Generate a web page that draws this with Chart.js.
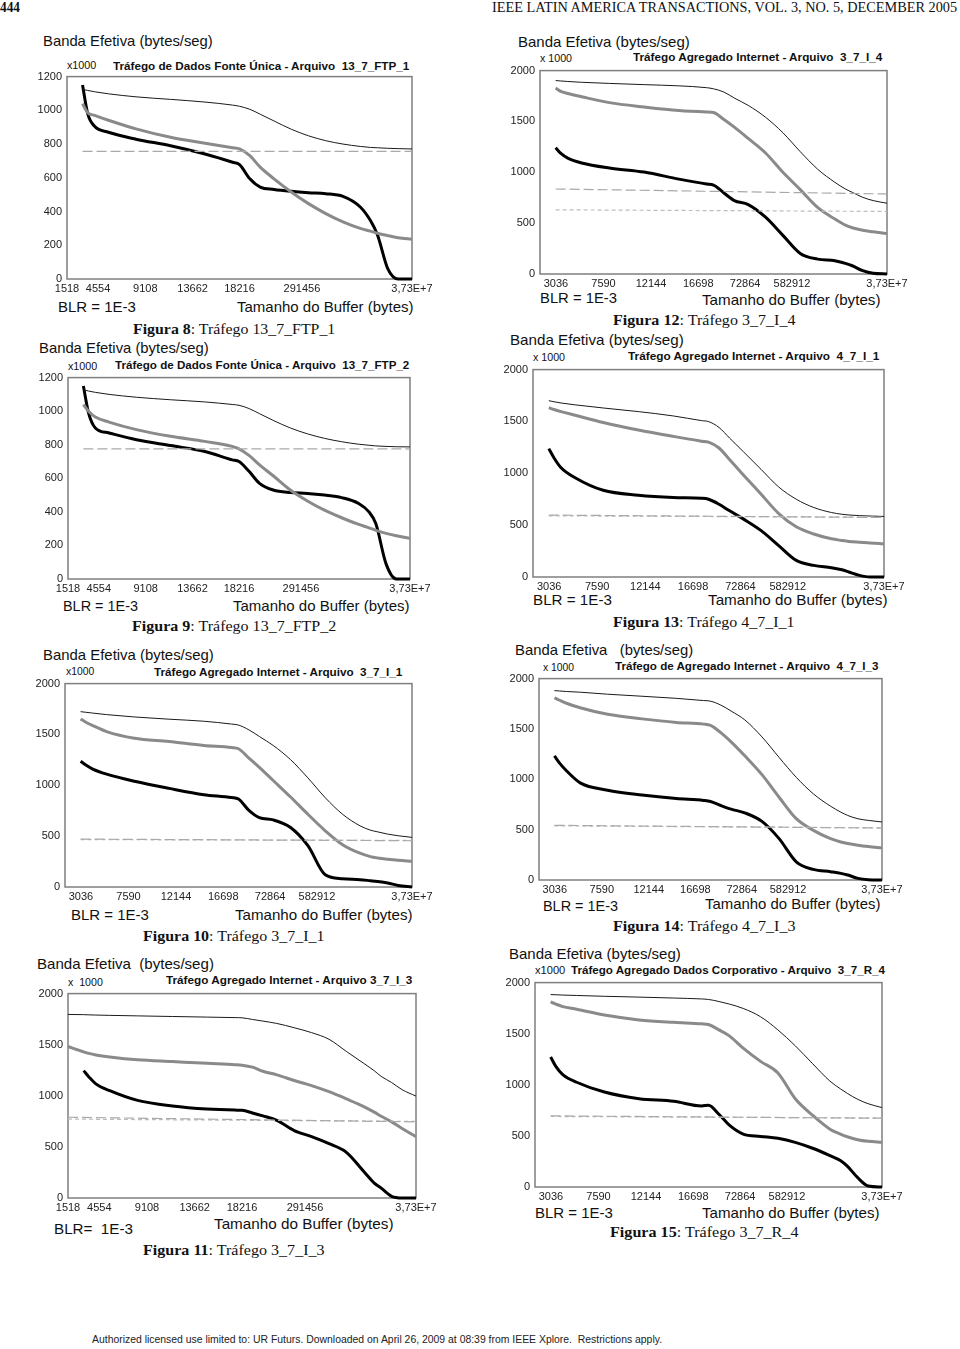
<!DOCTYPE html>
<html><head><meta charset="utf-8">
<script src="https://cdn.jsdelivr.net/npm/chart.js@4.4.0/dist/chart.umd.min.js"></script>
<style>
html,body{margin:0;padding:0;background:#fff}
body{width:960px;height:1349px;position:relative;overflow:hidden;font-family:"Liberation Sans",Arial,sans-serif;color:#111}
.t{position:absolute;white-space:pre;line-height:1;transform-origin:0 0}
.hdr{font-family:"Liberation Serif","Times New Roman",serif;font-size:14px;color:#111}
.foot{font-size:11px;color:#222}
.banda{font-size:15px}
.x1k{font-size:10px}
.ttl{font-size:10.5px;font-weight:bold}
.axl{font-size:15px}
.cap{font-family:"Liberation Serif","Times New Roman",serif;font-size:15px}
canvas{position:absolute}
</style></head>
<body>
<script>
// ---------- DATA ----------
// x-axis: relative position along the buffer-size axis (0 = first tick, 100 = last tick)
const G   = [4.5, 6, 8, 12, 20, 30, 40, 48, 50, 53, 56, 60, 65, 70, 75, 80, 85, 88, 90, 93, 96, 100];
const G11 = [0, 4.5, 6, 8, 12, 20, 30, 40, 48, 50, 53, 56, 60, 65, 70, 75, 80, 85, 88, 90, 93, 96, 100];
const DASH_X   = [4.5, 100];
const DASH_X11 = [0, 100];

const ftpTickPos    = [0, 9, 22.7, 36.4, 50, 68.1, 100];
const ftpTickLabels = ['1518', '4554', '9108', '13662', '18216', '291456', '3,73E+7'];
const netTickPos    = [4.6, 18.3, 32, 45.6, 59.1, 72.6, 100];
const netTickLabels = ['3036', '7590', '12144', '16698', '72864', '582912', '3,73E+7'];

// Figura 8 (x1000 bytes/seg)
const thin8  = [1124,1118,1110,1098,1080,1065,1049,1031,1024,1006,977,937,888,849,820,800,786,780,778,775,773,771];
const gray8  = [1039,986,970,941,890,840,805,778,771,731,663,594,516,447,388,339,300,284,271,257,245,235];
const black8 = [1150,980,905,870,829,790,741,692,678,594,545,531,520,512,506,490,427,345,261,60,0,0];
const dash8  = [757, 757];
// Figura 9
const thin9  = [1127,1120,1112,1100,1083,1068,1055,1040,1035,1015,985,945,900,865,838,818,803,797,793,790,788,787];
const gray9  = [1039,1000,965,935,890,850,820,790,775,735,680,615,530,465,410,365,325,305,290,272,258,242];
const black9 = [1150,990,900,870,830,795,760,710,700,640,570,530,515,510,500,485,450,400,330,90,0,0];
const dash9  = [775, 775];
// Figura 10
const thin10  = [1724,1718,1710,1695,1672,1650,1630,1602,1592,1545,1480,1392,1252,1073,878,715,602,559,543,520,504,488];
const gray10  = [1652,1620,1587,1528,1463,1431,1392,1372,1359,1268,1177,1047,885,715,553,416,332,299,286,273,263,254];
const black10 = [1236,1200,1160,1110,1040,970,908,880,865,754,683,660,585,406,120,81,72,62,55,40,15,0];
const dash10a = [471, 455];
const dash10b = [466, 458];
// Figura 11
const thin11  = [1796,1794,1792,1790,1787,1782,1776,1770,1765,1763,1747,1731,1708,1666,1618,1553,1434,1317,1245,1190,1130,1060,997];
const gray11  = [1482,1430,1415,1400,1380,1352,1335,1318,1305,1300,1280,1240,1205,1150,1100,1040,970,895,840,800,745,680,599];
const black11 = [null,1246,1185,1117,1050,955,900,870,860,858,832,803,760,660,600,531,447,259,146,97,16,0,0];
const dash11a = [790, 745];
const dash11b = [772, 750];
// Figura 12
const thin12  = [1902,1898,1893,1885,1874,1862,1850,1832,1821,1789,1730,1658,1541,1389,1203,1031,901,836,803,754,722,696];
const gray12  = [1828,1795,1775,1743,1685,1642,1607,1593,1588,1519,1444,1333,1190,1000,830,655,540,480,455,430,415,397];
const black12 = [1242,1185,1140,1092,1042,1002,933,885,875,797,722,683,559,380,202,146,130,104,81,33,7,0];
const dash12a = [836, 787];
const dash12b = [631, 615];
// Figura 13
const thin13  = [1700,1690,1678,1660,1630,1595,1553,1508,1499,1442,1340,1206,1037,868,750,670,622,605,598,592,588,584];
const gray13  = [1633,1615,1595,1560,1490,1418,1356,1310,1300,1244,1132,982,798,612,485,415,368,352,343,335,328,319];
const black13 = [1238,1148,1053,957,836,788,766,759,750,702,638,558,447,303,160,112,89,70,48,16,0,0];
const dash13a = [597, 574];
const dash13b = [590, 576];
// Figura 14
const thin14  = [1881,1877,1872,1865,1845,1825,1804,1782,1776,1737,1678,1590,1421,1217,1020,855,733,674,641,608,592,576];
const gray14  = [1809,1785,1755,1710,1645,1600,1565,1548,1535,1464,1372,1233,1046,822,609,493,411,378,362,345,332,319];
const black14 = [1233,1160,1085,965,892,844,809,790,780,740,704,667,582,411,181,105,82,66,49,16,3,0];
const dash14a = [543, 516];
const dash14b = [538, 518];
// Figura 15
const thin15  = [1883,1881,1878,1874,1866,1858,1849,1840,1835,1815,1790,1747,1666,1537,1382,1207,1036,961,916,858,815,777];
const gray15  = [1812,1790,1765,1740,1682,1635,1611,1597,1590,1537,1479,1359,1229,1116,864,702,566,518,492,463,447,437];
const black15 = [1272,1181,1100,1025,929,864,838,793,800,712,605,518,495,476,437,379,307,259,204,91,10,0];
const dash15a = [696, 673];
const dash15b = [690, 675];

// ---------- LAYOUT ----------
function addText(x1, x2, yc, html, cls){
  const d = document.createElement('div');
  d.className = 't ' + cls;
  d.innerHTML = html;
  document.body.appendChild(d);
  const h = d.offsetHeight;
  d.style.left = x1 + 'px';
  d.style.top = (yc - h/2) + 'px';
  if (x2){ const w = d.offsetWidth; d.style.transform = 'scaleX(' + ((x2 - x1)/w) + ')'; }
}

addText(0, 20, 8, '<b>444</b>', 'hdr');
addText(492, 957, 8, 'IEEE LATIN AMERICA TRANSACTIONS, VOL. 3, NO. 5, DECEMBER 2005', 'hdr');
addText(92, 662, 1339, 'Authorized licensed use limited to: UR Futurs. Downloaded on April 26, 2009 at 08:39 from IEEE Xplore.  Restrictions apply.', 'foot');

const charts = [
 {plot:[67,75,412,279], yMax:1200, yStep:200, tp:ftpTickPos, tl:ftpTickLabels, xs:G, dx:DASH_X, thin:thin8, gray:gray8, black:black8, dA:dash8, dB:null,
  texts:[[43,213,40,'Banda Efetiva (bytes/seg)','banda'],[67,96,66,'x1000','x1k'],[113,409,66,'Tráfego de Dados Fonte Única - Arquivo  13_7_FTP_1','ttl'],
         [58,136,306,'BLR = 1E-3','axl'],[237,413,306,'Tamanho do Buffer (bytes)','axl'],[133,335,329,'<b>Figura 8</b>: Tráfego 13_7_FTP_1','cap']]},
 {plot:[68,376,410,579], yMax:1200, yStep:200, tp:ftpTickPos, tl:ftpTickLabels, xs:G, dx:DASH_X, thin:thin9, gray:gray9, black:black9, dA:dash9, dB:null,
  texts:[[39,209,347,'Banda Efetiva (bytes/seg)','banda'],[68,97,367,'x1000','x1k'],[115,409,365,'Tráfego de Dados Fonte Única - Arquivo  13_7_FTP_2','ttl'],
         [63,138,605,'BLR = 1E-3','axl'],[233,409,605,'Tamanho do Buffer (bytes)','axl'],[132,336,626,'<b>Figura 9</b>: Tráfego 13_7_FTP_2','cap']]},
 {plot:[65,682,412,887], yMax:2000, yStep:500, tp:netTickPos, tl:netTickLabels, xs:G, dx:DASH_X, thin:thin10, gray:gray10, black:black10, dA:dash10a, dB:dash10b,
  texts:[[43,214,654,'Banda Efetiva (bytes/seg)','banda'],[66,94,672,'x1000','x1k'],[154,402,672,'Tráfego Agregado Internet - Arquivo  3_7_I_1','ttl'],
         [71,149,914,'BLR = 1E-3','axl'],[235,412,914,'Tamanho do Buffer (bytes)','axl'],[143,324,936,'<b>Figura 10</b>: Tráfego 3_7_I_1','cap']]},
 {plot:[68,992,416,1198], yMax:2000, yStep:500, tp:ftpTickPos, tl:ftpTickLabels, xs:G11, dx:DASH_X11, thin:thin11, gray:gray11, black:black11, dA:dash11a, dB:dash11b,
  texts:[[37,214,963,'Banda Efetiva  (bytes/seg)','banda'],[68,103,983,'x  1000','x1k'],[166,412,980,'Tráfego Agregado Internet - Arquivo 3_7_I_3','ttl'],
         [54,133,1228,'BLR=  1E-3','axl'],[214,393,1223,'Tamanho do Buffer (bytes)','axl'],[143,325,1250,'<b>Figura 11</b>: Tráfego 3_7_I_3','cap']]},
 {plot:[540,69,887,274], yMax:2000, yStep:500, tp:netTickPos, tl:netTickLabels, xs:G, dx:DASH_X, thin:thin12, gray:gray12, black:black12, dA:dash12a, dB:dash12b,
  texts:[[518,690,41,'Banda Efetiva (bytes/seg)','banda'],[540,572,59,'x 1000','x1k'],[633,882,57,'Tráfego Agregado Internet - Arquivo  3_7_I_4','ttl'],
         [540,617,297,'BLR = 1E-3','axl'],[702,880,299,'Tamanho do Buffer (bytes)','axl'],[613,795,320,'<b>Figura 12</b>: Tráfego 3_7_I_4','cap']]},
 {plot:[533,368,884,577], yMax:2000, yStep:500, tp:netTickPos, tl:netTickLabels, xs:G, dx:DASH_X, thin:thin13, gray:gray13, black:black13, dA:dash13a, dB:dash13b,
  texts:[[510,684,339,'Banda Efetiva (bytes/seg)','banda'],[533,565,358,'x 1000','x1k'],[628,879,356,'Tráfego Agregado Internet - Arquivo  4_7_I_1','ttl'],
         [533,612,599,'BLR = 1E-3','axl'],[708,887,599,'Tamanho do Buffer (bytes)','axl'],[613,794,622,'<b>Figura 13</b>: Tráfego 4_7_I_1','cap']]},
 {plot:[539,677,882,880], yMax:2000, yStep:500, tp:netTickPos, tl:netTickLabels, xs:G, dx:DASH_X, thin:thin14, gray:gray14, black:black14, dA:dash14a, dB:dash14b,
  texts:[[515,693,649,'Banda Efetiva   (bytes/seg)','banda'],[543,574,668,'x 1000','x1k'],[615,878,666,'Tráfego de Agregado Internet - Arquivo  4_7_I_3','ttl'],
         [543,618,905,'BLR = 1E-3','axl'],[705,880,903,'Tamanho do Buffer (bytes)','axl'],[613,795,926,'<b>Figura 14</b>: Tráfego 4_7_I_3','cap']]},
 {plot:[535,981,882,1187], yMax:2000, yStep:500, tp:netTickPos, tl:netTickLabels, xs:G, dx:DASH_X, thin:thin15, gray:gray15, black:black15, dA:dash15a, dB:dash15b,
  texts:[[509,681,953,'Banda Efetiva (bytes/seg)','banda'],[535,565,971,'x1000','x1k'],[571,885,970,'Tráfego Agregado Dados Corporativo - Arquivo  3_7_R_4','ttl'],
         [535,613,1212,'BLR = 1E-3','axl'],[702,879,1212,'Tamanho do Buffer (bytes)','axl'],[610,798,1232,'<b>Figura 15</b>: Tráfego 3_7_R_4','cap']]}
];

const frame = {
  id: 'frame',
  beforeDatasetsDraw(ch){
    const a = ch.chartArea, c = ch.ctx;
    c.save(); c.strokeStyle = '#7f7f7f'; c.lineWidth = 1.5;
    c.strokeRect(a.left, a.top, a.right - a.left, a.bottom - a.top);
    c.restore();
  }
};

const PAD_L = 40, PAD_T = 10, PAD_R = 30, PAD_B = 20;
const tickFont = {family: '"Liberation Sans", Arial, sans-serif', size: 11};
const mk = (xs, ys) => xs.map((x, k) => ({x: x, y: ys[k]}));

charts.forEach(c => {
  c.texts.forEach(t => addText(t[0], t[1], t[2], t[3], t[4]));
  const [L, T, R, B] = c.plot;
  const W = R - L + PAD_L + PAD_R, H = B - T + PAD_T + PAD_B;
  const cv = document.createElement('canvas');
  cv.width = W; cv.height = H;
  cv.style.left = (L - PAD_L) + 'px'; cv.style.top = (T - PAD_T) + 'px';
  cv.style.width = W + 'px'; cv.style.height = H + 'px';
  document.body.appendChild(cv);

  const ds = [];
  ds.push({data: mk(c.dx, c.dA), borderColor: '#a9a9a9', borderWidth: 1.2, borderDash: [10, 4]});
  if (c.dB) ds.push({data: mk(c.dx, c.dB), borderColor: '#bdbdbd', borderWidth: 1.2, borderDash: [4, 3]});
  ds.push({data: mk(c.xs, c.thin), borderColor: '#1a1a1a', borderWidth: 1});
  ds.push({data: mk(c.xs, c.gray), borderColor: '#8a8a8a', borderWidth: 3});
  ds.push({data: mk(c.xs, c.black), borderColor: '#000000', borderWidth: 3});
  ds.forEach(d => { d.pointRadius = 0; d.fill = false; d.cubicInterpolationMode = 'monotone'; d.clip = 4; d.spanGaps = false; });

  new Chart(cv, {
    type: 'line',
    data: {datasets: ds},
    options: {
      responsive: false, animation: false, events: [],
      layout: {padding: {left: 0, right: PAD_R, top: PAD_T, bottom: 0}},
      plugins: {legend: {display: false}, tooltip: {enabled: false}, title: {display: false}},
      scales: {
        x: {
          type: 'linear', min: 0, max: 100,
          grid: {display: false, drawTicks: false}, border: {display: false},
          afterBuildTicks: s => { s.ticks = c.tp.map(v => ({value: v})); },
          afterFit: s => { s.height = PAD_B; },
          ticks: {autoSkip: false, maxRotation: 0, minRotation: 0, padding: 3, color: '#222', font: tickFont,
                  callback: (v, i) => c.tl[i]}
        },
        y: {
          min: 0, max: c.yMax,
          grid: {display: false, drawTicks: false}, border: {display: false},
          afterFit: s => { s.width = PAD_L; },
          ticks: {stepSize: c.yStep, padding: 5, color: '#222', font: tickFont, callback: v => String(v)}
        }
      }
    },
    plugins: [frame]
  });
});
</script>
</body></html>
